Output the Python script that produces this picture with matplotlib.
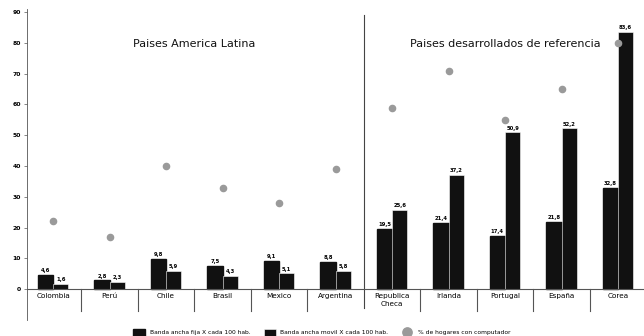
import matplotlib
matplotlib.use("Agg")
import matplotlib.pyplot as plt
import numpy as np

# Datos
paises = ["Colombia", "Perú", "Chile", "Brasil", "Mexico", "Argentina",
          "Republica\nCheca", "Irlanda", "Portugal", "España", "Corea"]
banda_fija = [4.6, 2.8, 9.8, 7.5, 9.1, 8.8, 19.5, 21.4, 17.4, 21.8, 32.8]
banda_movil = [1.6, 2.3, 5.9, 4.3, 5.1, 5.8, 25.6, 37.2, 50.9, 52.2, 83.6]
hogares_pc = [22, 17, 40, 33, 28, 39, 59, 71, 55, 65, 80]
titulos = ["Paises America Latina", "Paises desarrollados de referencia"]
leyenda = ["Banda ancha fija X cada 100 hab.", "Banda ancha movil X cada 100 hab.",
           "% de hogares con computador"]

fig = plt.figure(figsize=(6.44, 3.36), dpi=100)
ax = fig.add_axes([0.042, 0.048, 0.958, 0.925])

x = np.arange(len(paises))
ancho = 0.27
b1 = ax.bar(x - ancho / 2, banda_fija, ancho, color="#111111", edgecolor="#111111",
            label=leyenda[0])
b2 = ax.bar(x + ancho / 2, banda_movil, ancho, color="#111111", edgecolor="#ffffff",
            linewidth=0.4, label=leyenda[1])
sc = ax.scatter(x, hogares_pc, s=20, color="#9a9a9a", zorder=3, label=leyenda[2])

# etiquetas de valores
for xi, v in zip(x - ancho / 2, banda_fija):
    ax.text(xi, v + 0.6, f"{v:.1f}".replace(".", ","), ha="center", va="bottom",
            fontsize=3.8, fontweight="bold")
for xi, v in zip(x + ancho / 2, banda_movil):
    ax.text(xi, v + 0.6, f"{v:.1f}".replace(".", ","), ha="center", va="bottom",
            fontsize=3.8, fontweight="bold")

# eje x y separadores
ax.axhline(0, color="#555555", lw=0.8, zorder=4)
for i in range(len(paises) - 1):
    if i == 5:
        ax.plot([i + 0.5, i + 0.5], [-6, 89], color="#444444", lw=0.8)
    else:
        ax.plot([i + 0.5, i + 0.5], [0, -7], color="#555555", lw=0.8)
for xi, p in zip(x, paises):
    ax.text(xi, -1.3, p, ha="center", va="top", fontsize=5.2, linespacing=1.3)

ax.text(2.5, 79.5, titulos[0], ha="center", va="center", fontsize=8.0, color="#111111")
ax.text(8.0, 79.5, titulos[1], ha="center", va="center", fontsize=8.0, color="#111111")

ax.set_xlim(-0.46, 10.46)
ax.set_ylim(-10, 91)
ax.set_yticks(range(0, 91, 10))
ax.set_yticklabels([str(t) for t in range(0, 91, 10)], fontsize=4.4, fontweight="bold")
ax.set_xticks([])
ax.tick_params(axis="y", length=2.5, width=0.5, color="#555555", pad=2)
for s in ["top", "right", "bottom"]:
    ax.spines[s].set_visible(False)
ax.spines["left"].set_color("#555555")
ax.spines["left"].set_linewidth(0.6)
ax.spines["left"].set_linestyle((0, (3, 1)))

fig.legend(handles=[b1, b2, sc], labels=leyenda, loc="lower center",
           bbox_to_anchor=(0.5, -0.015), ncol=3, frameon=False,
           prop={"size": 4.3},
           handlelength=2.0, handleheight=1.4, columnspacing=2.2, markerscale=1.5)

fig.savefig("out.png", dpi=100)
